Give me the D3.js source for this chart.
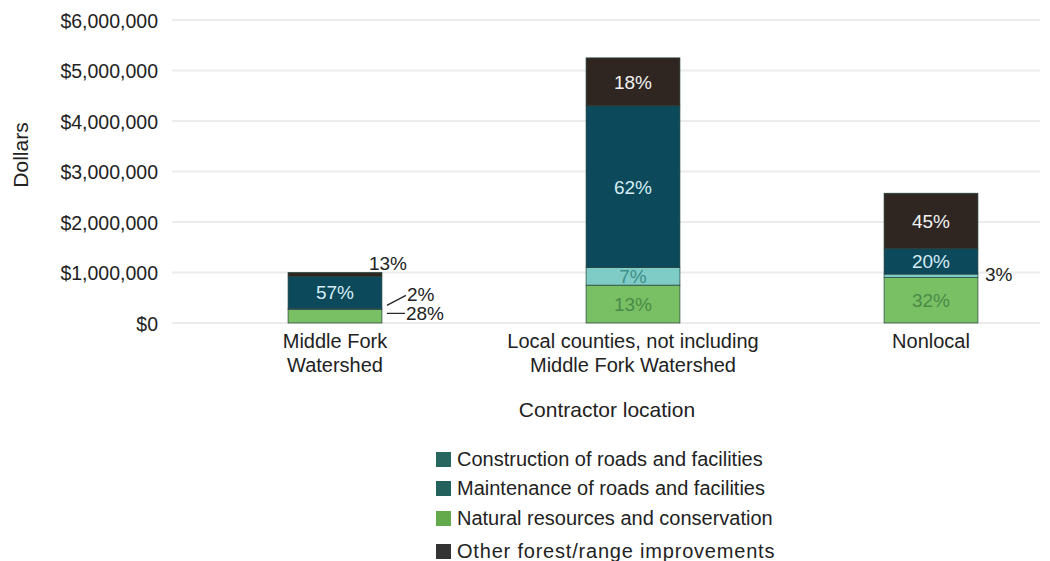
<!DOCTYPE html>
<html>
<head>
<meta charset="utf-8">
<script src="https://cdn.jsdelivr.net/npm/d3@7"></script>
<style>
  html, body { margin: 0; padding: 0; background: #fff; }
  svg { display: block; font-family: "Liberation Sans", Arial, sans-serif; }
</style>
</head>
<body>
<svg id="chart" width="1050" height="561"></svg>
<script>
// ---- data ----
const categories = [["Middle Fork", "Watershed"], ["Local counties, not including", "Middle Fork Watershed"], ["Nonlocal"]];
const seriesNames = ["Natural resources and conservation", "Construction of roads and facilities", "Maintenance of roads and facilities", "Other forest/range improvements"];
const natural      = [270000, 750000, 900000];
const construction = [20000, 350000, 70000];
const maintenance  = [630000, 3200000, 500000];
const other        = [80000, 950000, 1100000];
const pctNatural      = ["28%", "13%", "32%"];
const pctConstruction = ["2%", "7%", "3%"];
const pctMaintenance  = ["57%", "62%", "20%"];
const pctOther        = ["13%", "18%", "45%"];
const yTicks = [0, 1000000, 2000000, 3000000, 4000000, 5000000, 6000000];
const legendOrder = ["Construction of roads and facilities", "Maintenance of roads and facilities", "Natural resources and conservation", "Other forest/range improvements"];

// ---- styles ----
const barColors = ["#79bf64", "#7fcbc6", "#0b495b", "#2f2622"];
const labelColors = ["#4a8c47", "#3f8e8a", "#d6edf5", "#f2f2f2"];
const legendColors = {"Construction of roads and facilities": "#27665f", "Maintenance of roads and facilities": "#23625c", "Natural resources and conservation": "#63aa4c", "Other forest/range improvements": "#333333"};
const txt = "#222";

const svg = d3.select("#chart");
const keys = ["natural", "construction", "maintenance", "other"];
const table = categories.map((c, i) => ({
  cat: c.join(" "), natural: natural[i], construction: construction[i], maintenance: maintenance[i], other: other[i]
}));
const pcts = [pctNatural, pctConstruction, pctMaintenance, pctOther];

const x = d3.scaleBand().domain(table.map(d => d.cat)).range([186, 1080]).paddingInner(0.685).paddingOuter(0.3425);
const y = d3.scaleLinear().domain([0, 6000000]).range([323, 20]);

// gridlines
svg.append("g").selectAll("line").data(yTicks).join("line")
  .attr("x1", 172).attr("x2", 1040)
  .attr("y1", d => y(d)).attr("y2", d => y(d))
  .attr("stroke", "#ececec").attr("stroke-width", 2);

// y axis labels
const yAxis = d3.axisLeft(y).tickValues(yTicks).tickSize(0).tickPadding(0)
  .tickFormat(d => "$" + d3.format(",")(d));
const ya = svg.append("g").attr("transform", "translate(158,1)").call(yAxis);
ya.select(".domain").remove();
ya.selectAll("text").attr("font-size", 19.5).attr("fill", txt).attr("font-family", "Liberation Sans, Arial, sans-serif");

// y title
svg.append("text").attr("transform", "translate(28,155) rotate(-90)")
  .attr("text-anchor", "middle").attr("font-size", 21).attr("fill", txt).text("Dollars");

// stacks
const stack = d3.stack().keys(keys)(table);
stack.forEach((layer, li) => {
  const g = svg.append("g");
  g.selectAll("rect").data(layer).join("rect")
    .attr("x", d => x(d.data.cat))
    .attr("width", x.bandwidth())
    .attr("y", d => y(d[1]))
    .attr("height", d => y(d[0]) - y(d[1]))
    .attr("fill", barColors[li])
    .attr("stroke", "#24403c").attr("stroke-width", 0.7);
});

// inside labels
stack.forEach((layer, li) => {
  layer.forEach((d, i) => {
    const h = y(d[0]) - y(d[1]);
    if (h < 16) return;
    svg.append("text")
      .attr("x", x(d.data.cat) + x.bandwidth() / 2)
      .attr("y", (y(d[0]) + y(d[1])) / 2 + 7)
      .attr("text-anchor", "middle").attr("font-size", 19)
      .attr("fill", labelColors[li]).text(pcts[li][i]);
  });
});

// outside labels (Middle Fork)
const right0 = x(table[0].cat) + x.bandwidth();
const topOther0 = y(stack[3][0][1]);
svg.append("text").attr("x", right0 + 6).attr("y", topOther0 - 3)
  .attr("text-anchor", "middle").attr("font-size", 19).attr("fill", txt).text(pctOther[0]);
const natTop0 = y(stack[0][0][1]);
svg.append("line").attr("x1", right0 + 5).attr("y1", natTop0 - 4).attr("x2", right0 + 24).attr("y2", natTop0 - 14)
  .attr("stroke", txt).attr("stroke-width", 1.2);
svg.append("text").attr("x", right0 + 25).attr("y", natTop0 - 8)
  .attr("font-size", 19).attr("fill", txt).text(pctConstruction[0]);
svg.append("line").attr("x1", right0 + 5).attr("y1", natTop0 + 4).attr("x2", right0 + 23).attr("y2", natTop0 + 4)
  .attr("stroke", txt).attr("stroke-width", 1.2);
svg.append("text").attr("x", right0 + 24).attr("y", natTop0 + 11)
  .attr("font-size", 19).attr("fill", txt).text(pctNatural[0]);
// outside label (Nonlocal)
const right2 = x(table[2].cat) + x.bandwidth();
const midCon2 = (y(stack[1][2][0]) + y(stack[1][2][1])) / 2;
svg.append("text").attr("x", right2 + 7).attr("y", midCon2 + 5)
  .attr("font-size", 19).attr("fill", txt).text(pctConstruction[2]);

// category labels
categories.forEach((c, i) => {
  const cx = x(table[i].cat) + x.bandwidth() / 2;
  c.forEach((line, k) => {
    svg.append("text").attr("x", cx).attr("y", 348 + k * 24)
      .attr("text-anchor", "middle").attr("font-size", 20).attr("fill", txt).text(line);
  });
});

// x title
svg.append("text").attr("x", 607).attr("y", 417).attr("text-anchor", "middle")
  .attr("font-size", 21).attr("fill", txt).text("Contractor location");

// legend
const legY = [459, 488, 518, 551];
const legSpacing = [0, 0, 0, 0.8];
legendOrder.forEach((name, i) => {
  svg.append("rect").attr("x", 436).attr("y", legY[i] - 7).attr("width", 15).attr("height", 15)
    .attr("fill", legendColors[name]);
  svg.append("text").attr("x", 457).attr("y", legY[i] + 7).attr("font-size", 20)
    .attr("letter-spacing", legSpacing[i]).attr("fill", txt).text(name);
});
</script>
</body>
</html>
